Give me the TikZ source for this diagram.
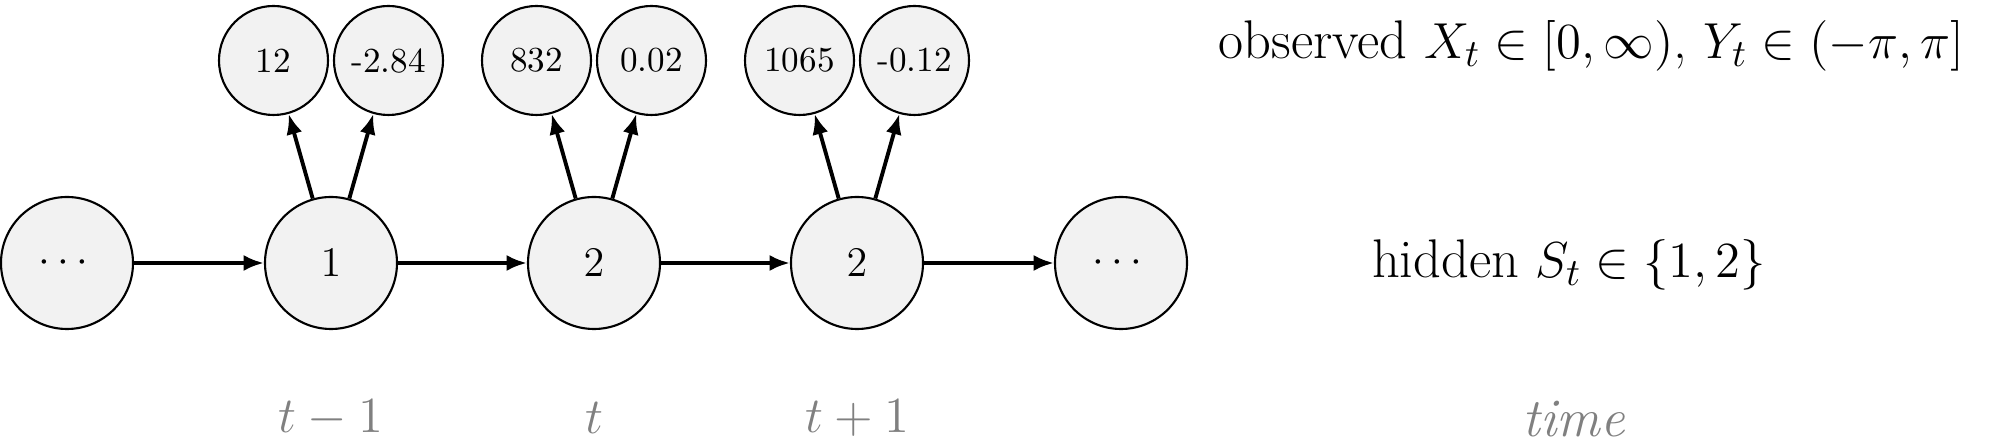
\documentclass[tikz,border=0pt]{standalone}
\usepackage{amsmath}
\usepackage{amssymb}
\usetikzlibrary{arrows.meta}

\begin{document}
\begin{tikzpicture}[
		hid/.style={circle, draw, semithick, fill=black!5, minimum size=1.32cm, inner sep=0pt, font=\fontsize{13.2}{16}\selectfont},
		obs/.style={circle, draw, semithick, fill=black!5, minimum size=1.09cm, inner sep=0pt},
		trans/.style={-{Latex[length=5.8pt, width=4.6pt]}, line width=1.1pt},
		biglabel/.style={font=\fontsize{15.5}{18}\selectfont},
		tlabel/.style={text=gray, biglabel}
	]
		\useasboundingbox (0,0) rectangle (19.92,4.42);
		
		%hidden states
		\node[hid] (s0) at (0.67,1.79) {$\cdots$};
		\node[hid] (s1) at (3.31,1.79) {$1$};
		\node[hid] (s2) at (5.94,1.79) {$2$};
		\node[hid] (s3) at (8.57,1.79) {$2$};
		\node[hid] (s4) at (11.21,1.79) {$\cdots$};
		
		%observations
		\node[obs] (x1) at (2.735,3.815) {12};
		\node[obs] (y1) at (3.885,3.815) {-2.84};
		\node[obs] (x2) at (5.365,3.815) {832};
		\node[obs] (y2) at (6.515,3.815) {0.02};
		\node[obs] (x3) at (7.995,3.815) {1065};
		\node[obs] (y3) at (9.145,3.815) {-0.12};
		
		\draw[trans] (s0) -- (s1);
		\draw[trans] (s1) -- (s2);
		\draw[trans] (s2) -- (s3);
		\draw[trans] (s3) -- (s4);
		
		\draw[trans] (s1) -- (x1);
		\draw[trans] (s1) -- (y1);
		\draw[trans] (s2) -- (x2);
		\draw[trans] (s2) -- (y2);
		\draw[trans] (s3) -- (x3);
		\draw[trans] (s3) -- (y3);
		
		%labels on the right
		\node[biglabel] (obslabel) at (15.915,3.96) {observed $X_t \in [0,\infty)$, $Y_t \in (-\pi,\pi]$};
		\node[biglabel] (hidlabel) at (15.69,1.77) {hidden $S_t \in \{1,2\}$};
		
		%time axis
		\node[tlabel] (t0) at (3.31,0.24) {$t-1$};
		\node[tlabel] (t1) at (5.94,0.24) {$t$};
		\node[tlabel] (t2) at (8.57,0.24) {$t+1$};
		\node[tlabel] (tt) at (15.74,0.23) {\textit{time}};
		
	\end{tikzpicture}
\end{document}
